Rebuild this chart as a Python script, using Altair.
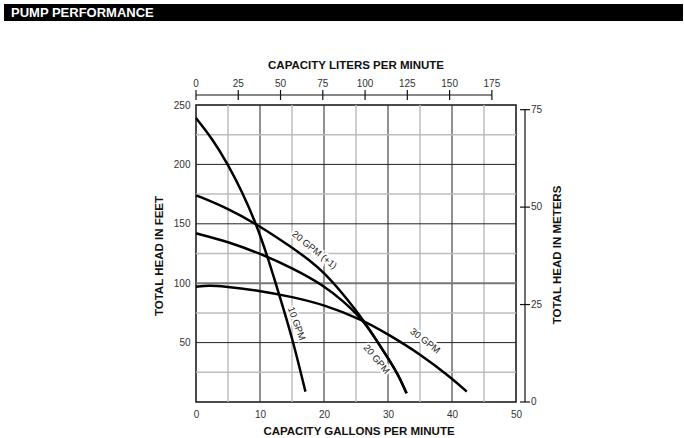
import altair as alt
import pandas as pd

# ---- data ----
gpm_10 = [0, 2.5, 5, 7.2, 9.4, 11.2, 12.9, 15, 17.1]
ft_10 = [239, 222, 200, 177, 150, 122, 92, 55, 8.7]

gpm_20p = [0, 5, 10, 15, 17.7, 20, 22.9, 25, 26.1, 28.2, 30, 31.6, 32.9]
ft_20p = [174, 163, 148, 130, 119.5, 109, 91.5, 77, 69, 52, 37, 23, 7.3]

gpm_20 = [0, 5, 10, 15, 20, 23, 26.1, 28.2, 30, 31.6, 32.9]
ft_20 = [142, 135, 125, 113, 98, 85, 69, 52, 37, 23, 7.3]

gpm_30 = [0, 2, 4, 10, 15, 20, 26.1, 30, 35, 40, 42.3]
ft_30 = [97, 98, 97.5, 93.7, 88.5, 82, 69, 57, 40.5, 20, 8.7]

label_text = ["10 GPM", "20 GPM (+1)", "20 GPM", "30 GPM"]
label_gpm = [15.7, 18.5, 28.2, 35.8]
label_ft = [66, 128, 36, 51.5]
label_angle = [70, 39, 50, 38]

gpm_ticks = [0, 10, 20, 30, 40, 50]
ft_ticks = [50, 100, 150, 200, 250]
liter_ticks = [0, 25, 50, 75, 100, 125, 150, 175]
meter_ticks = [0, 25, 50, 75]
grid_gpm_light = [5, 15, 25, 35, 45]
grid_gpm_dark = [10, 20, 30, 40]
grid_ft_light = [25, 75, 125, 175, 225]
grid_ft_dark = [50, 150, 200]
grid_ft_mid = [100]

L_PER_GAL = 3.78541
FT_PER_M = 3.28084

FONT = "Liberation Sans"

rows = []
for name, xs, ys in [("10 GPM", gpm_10, ft_10), ("20 GPM (+1)", gpm_20p, ft_20p),
                     ("20 GPM", gpm_20, ft_20), ("30 GPM", gpm_30, ft_30)]:
    for i, (a, b) in enumerate(zip(xs, ys)):
        rows.append({"pump": name, "gpm": a, "ft": b, "ord": i})
curves = pd.DataFrame(rows)

xscale = alt.Scale(domain=[0, 50], nice=False, zero=False)
yscale = alt.Scale(domain=[0, 250], nice=False, zero=False)

vlight = alt.Chart(pd.DataFrame({"gpm": grid_gpm_light})).mark_rule(
    color="#bdbdbd", strokeWidth=1.5).encode(
    x=alt.X("gpm:Q", scale=xscale,
            axis=alt.Axis(values=gpm_ticks, ticks=False, domain=False, grid=False,
                          labelPadding=7, labelFontSize=10, labelColor="#333",
                          labelFlush=False, labelFont=FONT, title=None)))
vdark = alt.Chart(pd.DataFrame({"gpm": grid_gpm_dark})).mark_rule(
    color="#222", strokeWidth=1).encode(x=alt.X("gpm:Q", scale=xscale))
hlight = alt.Chart(pd.DataFrame({"ft": grid_ft_light})).mark_rule(
    color="#bdbdbd", strokeWidth=1.5).encode(
    y=alt.Y("ft:Q", scale=yscale,
            axis=alt.Axis(values=ft_ticks, ticks=False, domain=False, grid=False,
                          labelPadding=6, labelFontSize=10, labelColor="#333",
                          labelFlush=False, labelFont=FONT, title=None)))
hdark = alt.Chart(pd.DataFrame({"ft": grid_ft_dark})).mark_rule(
    color="#222", strokeWidth=1).encode(y=alt.Y("ft:Q", scale=yscale))
hmid = alt.Chart(pd.DataFrame({"ft": grid_ft_mid})).mark_rule(
    color="#777", strokeWidth=2).encode(y=alt.Y("ft:Q", scale=yscale))

lines = alt.Chart(curves).mark_line(
    interpolate="basis", color="black", strokeWidth=2.5).encode(
    x=alt.X("gpm:Q", scale=xscale), y=alt.Y("ft:Q", scale=yscale),
    detail="pump:N", order="ord:Q")

lab_df = pd.DataFrame({"txt": label_text, "gpm": label_gpm, "ft": label_ft, "angle": label_angle})
lab_halo = alt.Chart(lab_df).mark_text(
    fontSize=9.5, font=FONT, stroke="white", strokeWidth=4, color="white").encode(
    x=alt.X("gpm:Q", scale=xscale), y=alt.Y("ft:Q", scale=yscale),
    text="txt:N", angle=alt.Angle("angle:Q", scale=None))
lab = alt.Chart(lab_df).mark_text(fontSize=9.5, font=FONT, color="#222").encode(
    x=alt.X("gpm:Q", scale=xscale), y=alt.Y("ft:Q", scale=yscale),
    text="txt:N", angle=alt.Angle("angle:Q", scale=None))

# ---- top axis: liters per minute ----
lit_df = pd.DataFrame({"liters": liter_ticks})
top_line = alt.Chart(pd.DataFrame({"l0": [liter_ticks[0]], "l1": [liter_ticks[-1]]})).transform_calculate(
    gpm=f"datum.l0 / {L_PER_GAL}", gpm2=f"datum.l1 / {L_PER_GAL}").mark_rule(
    color="#111", strokeWidth=1.2).encode(
    x=alt.X("gpm:Q", scale=xscale), x2="gpm2:Q", y=alt.value(-10))
top_ticks = alt.Chart(lit_df).transform_calculate(
    gpm=f"datum.liters / {L_PER_GAL}").mark_rule(color="#111", strokeWidth=1.2).encode(
    x=alt.X("gpm:Q", scale=xscale), y=alt.value(-15), y2=alt.value(-5))
top_labels = alt.Chart(lit_df).transform_calculate(
    gpm=f"datum.liters / {L_PER_GAL}").mark_text(
    fontSize=10, font=FONT, color="#333", baseline="middle").encode(
    x=alt.X("gpm:Q", scale=xscale), y=alt.value(-21), text="liters:Q")

# ---- right axis: meters ----
m_df = pd.DataFrame({"m": meter_ticks})
right_line = alt.Chart(pd.DataFrame({"m0": [meter_ticks[0]], "m1": [meter_ticks[-1]]})).transform_calculate(
    ft=f"datum.m0 * {FT_PER_M}", ft2=f"datum.m1 * {FT_PER_M}").mark_rule(
    color="#111", strokeWidth=1.2).encode(
    y=alt.Y("ft:Q", scale=yscale), y2="ft2:Q", x=alt.value(329))
right_ticks = alt.Chart(m_df).transform_calculate(
    ft=f"datum.m * {FT_PER_M}").mark_rule(color="#111", strokeWidth=1.2).encode(
    y=alt.Y("ft:Q", scale=yscale), x=alt.value(324), x2=alt.value(334))
right_labels = alt.Chart(m_df).transform_calculate(
    ft=f"datum.m * {FT_PER_M}").mark_text(
    fontSize=10, font=FONT, color="#333", align="left", baseline="middle").encode(
    y=alt.Y("ft:Q", scale=yscale), x=alt.value(335), text="m:Q")

# ---- titles ----
one = pd.DataFrame({"a": [0]})
def title_text(txt, x, y, angle=0, size=11.5, color="#111", align="center"):
    kw = dict(text=txt, fontSize=size, font=FONT, fontWeight="bold", color=color,
              align=align, baseline="middle")
    if angle:
        kw["angle"] = angle
    return alt.Chart(one).mark_text(**kw).encode(x=alt.value(x), y=alt.value(y))

t_top = title_text("CAPACITY LITERS PER MINUTE", 160, -39)
t_bottom = title_text("CAPACITY GALLONS PER MINUTE", 163, 327)
t_left = title_text("TOTAL HEAD IN FEET", -36, 151, angle=270)
t_right = title_text("TOTAL HEAD IN METERS", 362, 150, angle=270)

header_bar = alt.Chart(one).mark_rect(color="black").encode(
    x=alt.value(-192), x2=alt.value(487), y=alt.value(-101), y2=alt.value(-84))
header_txt = alt.Chart(one).mark_text(
    text="PUMP PERFORMANCE", fontSize=13, font="Liberation Sans Narrow, Liberation Sans",
    fontWeight="bold", color="white", align="left", baseline="middle").encode(
    x=alt.value(-185), y=alt.value(-92))

chart = alt.layer(
    vlight, vdark, hlight, hdark, hmid, lines, lab_halo, lab,
    top_line, top_ticks, top_labels, right_line, right_ticks, right_labels,
    t_top, t_bottom, t_left, t_right, header_bar, header_txt
).properties(
    width=320, height=297,
    padding={"left": 196, "top": 105, "right": 168, "bottom": 36},
    autosize="none", background="white"
).configure_view(stroke="#111", strokeWidth=1.5)

chart.save("out.html", embed_options={"renderer": "svg", "actions": False})
